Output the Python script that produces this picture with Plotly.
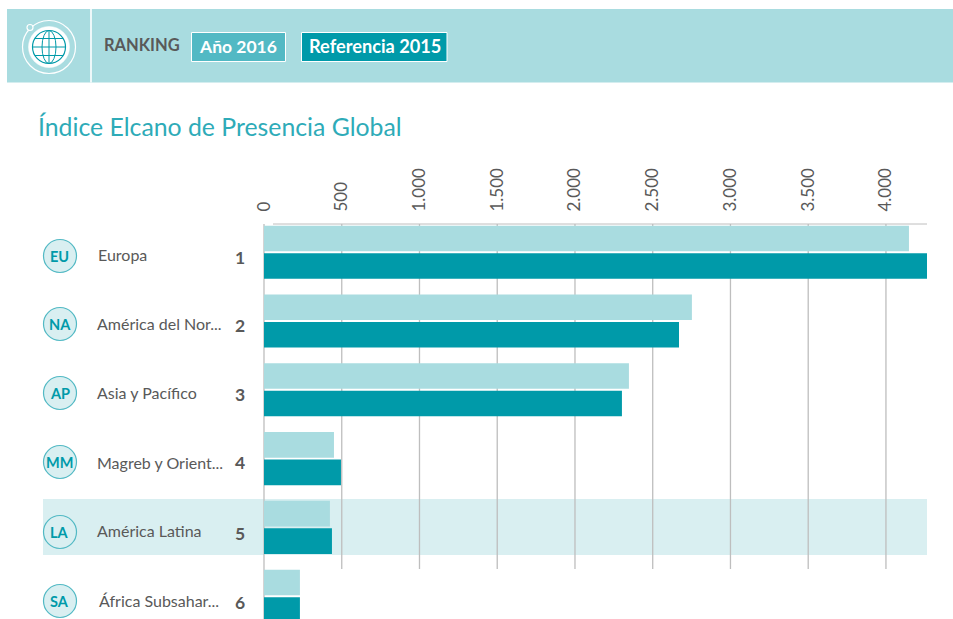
import plotly.graph_objects as go

W, H = 953, 619

# ---- data ----
codes = ["EU", "NA", "AP", "MM", "LA", "SA"]
regions = ["Europa", "América del Nor...", "Asia y Pacífico", "Magreb y Orient...", "América Latina", "África Subsahar..."]
ranks = ["1", "2", "3", "4", "5", "6"]
values_2016 = [4148, 2752, 2347, 450, 424, 231]
values_2015 = [4264, 2669, 2302, 495, 437, 231]
tick_values = [0, 500, 1000, 1500, 2000, 2500, 3000, 3500, 4000]
series_names = ["Año 2016", "Referencia 2015"]

# ---- layout constants (pixels) ----
X0, X1, Y0, Y1 = 264, 927, 224, 619
ROW_TOP = 252.2
ROW_PITCH = 68.8
BADGE_Y = [256, 324, 393, 462, 532, 601]
LABEL_Y = [254, 323, 392, 462, 530, 600]
LABEL_X = [98, 97, 97, 97, 97, 99]
RANK_Y = [257, 325, 394, 462, 533, 602]
GRID_BOTTOM = 569

LIGHT = "#A9DCE0"
DARK = "#009AA9"
MID = "#52B9C4"
GREY = "#595959"
PALE = "#D9EFF1"
GRID = "#BEBEBE"
FONT = "Lato"


def px(x):
    return x / W


def py(y):
    return 1 - y / H


shapes = []


def rect(x0, y0, x1, y1, fill, line=None, lw=0):
    shapes.append(dict(type="rect", xref="paper", yref="paper", x0=px(x0), x1=px(x1), y0=py(y1), y1=py(y0),
                       fillcolor=fill, line=dict(color=line or fill, width=lw), layer="below"))


def circle(cx, cy, r, fill="rgba(0,0,0,0)", line=None, lw=1.5, rx=None):
    rx = r if rx is None else rx
    shapes.append(dict(type="circle", xref="paper", yref="paper", x0=px(cx - rx), x1=px(cx + rx), y0=py(cy + r),
                       y1=py(cy - r), fillcolor=fill, line=dict(color=line or fill, width=lw), layer="above"))


def seg(x0, y0, x1, y1, color, lw, layer="above"):
    shapes.append(dict(type="line", xref="paper", yref="paper", x0=px(x0), x1=px(x1), y0=py(y0), y1=py(y1),
                       line=dict(color=color, width=lw), layer=layer))


# header band
rect(7, 9, 953, 82.5, LIGHT)
seg(91, 9, 91, 82.5, "white", 1.6, "below")
rect(191.5, 32.5, 285.5, 61.5, MID, "white", 1)
rect(301.5, 32.5, 447, 61.5, DARK, "white", 1)

# globe icon
circle(49, 47, 26.5, line="white", lw=1.2)
circle(30, 27.5, 3, fill=LIGHT, line="white", lw=1.2)
circle(49, 47, 20.5, fill="white", line="white", lw=0.5)
circle(49, 47, 16.5, line=DARK, lw=1.2)
circle(49, 47, 16.5, line=DARK, lw=1, rx=7)
seg(49, 30.5, 49, 63.5, DARK, 1)
seg(32.5, 47, 65.5, 47, DARK, 1)
seg(35, 38.5, 63, 38.5, DARK, 1)
seg(35, 55.5, 63, 55.5, DARK, 1)

# highlighted row
rect(43, 499, X1, 555, PALE)

# grid, drawn from the tick values
xscale = (X1 - X0) / 4264
for t in tick_values:
    xp = X0 + t * xscale
    seg(xp, Y0, xp, Y1 if t == 0 else GRID_BOTTOM, GRID, 1.3, "below")
seg(273, Y0, X1, Y0, GRID, 1, "below")

# badges
for y in BADGE_Y:
    circle(60, y, 16.5, fill=PALE, line=MID, lw=1.2)

annotations = []


def text(x, y, s, size, color, anchor="left", family=FONT, bold=False):
    annotations.append(dict(xref="paper", yref="paper", x=px(x), y=py(y), text=f"<b>{s}</b>" if bold else s,
                            showarrow=False, xanchor=anchor, yanchor="middle",
                            font=dict(size=size, color=color, family=family), borderpad=0, borderwidth=0))


text(104, 45, "RANKING", 16.5, GREY, bold=True)
text(238, 46.5, series_names[0], 17.5, "white", "center", bold=True)
text(374.5, 46, series_names[1], 18.2, "white", "center", bold=True)
text(38, 126, "Índice Elcano de Presencia Global", 24.8, "#2EABB8")

for i in range(len(codes)):
    text(60, BADGE_Y[i], codes[i], 14.5, DARK, "center", bold=True)
    text(LABEL_X[i], LABEL_Y[i], regions[i], 16, GREY)
    text(240, RANK_Y[i], ranks[i], 17.5, GREY, "center", bold=True)

fig = go.Figure()
fig.add_bar(name=series_names[0], y=regions, x=values_2016, orientation="h", marker=dict(color=LIGHT, line_width=0))
fig.add_bar(name=series_names[1], y=regions, x=values_2015, orientation="h", marker=dict(color=DARK, line_width=0))

fig.update_layout(
    width=W, height=H, margin=dict(l=0, r=0, t=0, b=0, autoexpand=False, pad=0), autosize=False,
    paper_bgcolor="white", plot_bgcolor="rgba(0,0,0,0)",
    barmode="group", bargap=0.2, bargroupgap=0.07, showlegend=False,
    separators=",.", shapes=shapes, annotations=annotations,
    font=dict(family=FONT, color=GREY),
    xaxis=dict(domain=[px(X0), px(X1)], range=[0, 4264], side="top", tickvals=tick_values,
               tickformat=",d", tickangle=-90, showgrid=False, zeroline=False, showline=False,
               ticks="outside", ticklen=8, tickcolor="rgba(0,0,0,0)", anchor="y", automargin=False,
               tickfont=dict(size=17, color=GREY, family=FONT)),
    yaxis=dict(domain=[py(Y1), py(Y0)], type="category", categoryorder="array", categoryarray=regions,
               range=[(Y1 - ROW_TOP) / ROW_PITCH, (Y0 - ROW_TOP) / ROW_PITCH],
               visible=False),
)

fig.write_html("out.html", config=dict(displayModeBar=False),
               post_script="document.body.style.margin='0';document.documentElement.style.overflow='hidden';")
